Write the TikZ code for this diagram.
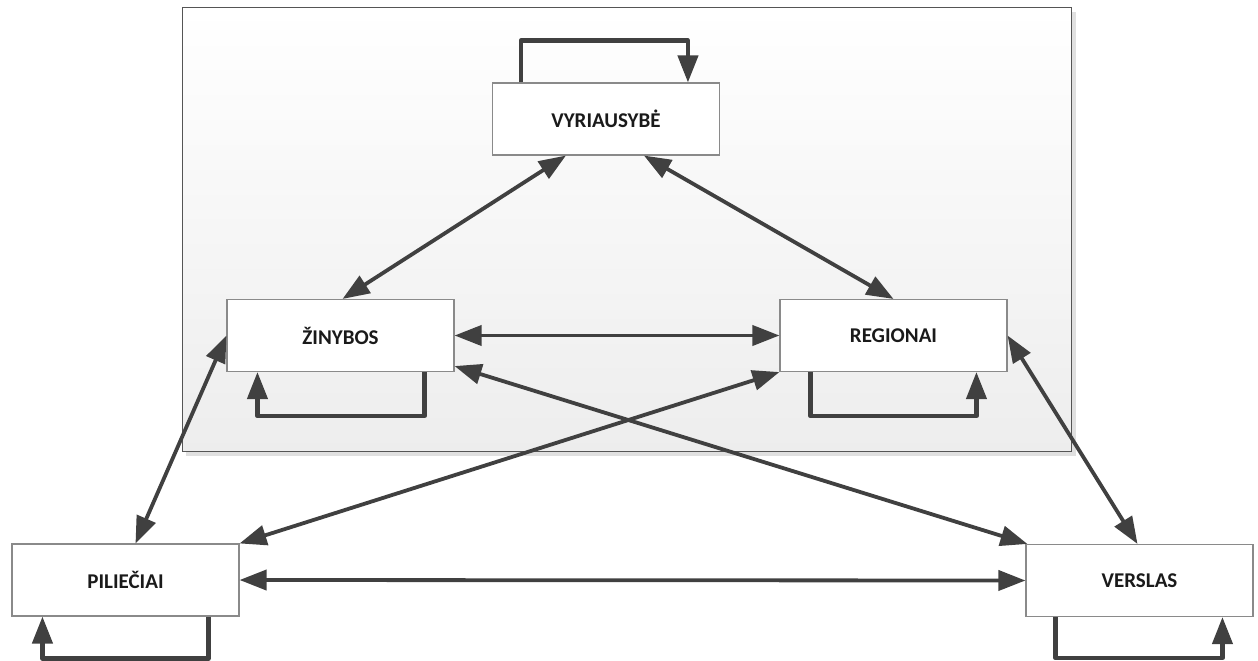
\documentclass[tikz,border=0pt]{standalone}
\usepackage{fontspec}
\setmainfont{Carlito}
\usetikzlibrary{arrows.meta,calc}
\definecolor{linec}{HTML}{404040}
\definecolor{boxline}{HTML}{8A8A8A}
\definecolor{framec}{HTML}{555555}
\definecolor{textc}{HTML}{1A1A1A}
\tikzset{
  unitbox/.style={draw=boxline, line width=1.1pt, fill=white,
    minimum width=227pt, minimum height=72pt, inner sep=0pt,
    text=textc, font=\fontsize{21}{24}\selectfont\bfseries},
  link/.style={draw=linec, line width=3.8pt,
    {Triangle[length=27pt,width=20pt]}-{Triangle[length=27pt,width=20pt]}},
  selfloop/.style={draw=linec, line width=4.2pt, line join=round,
    -{Triangle[length=27pt,width=20pt]}},
}
\begin{document}
\begin{tikzpicture}[x=1pt,y=-1pt]
  \useasboundingbox (0,0) rectangle (1258,661);
  % shaded government area with its drop shadow
  \fill[black!12] (186,12) rectangle (1076,456);
  \shade[top color=white, bottom color=black!7, draw=framec, line width=1pt]
    (182,8) rectangle (1071,451);

  % units
  \node[unitbox] (v)  at (606,119)    {VYRIAUSYBĖ};
  \node[unitbox] (z)  at (340.5,335.5) {ŽINYBOS};
  \node[unitbox] (r)  at (893.5,335.5) {REGIONAI};
  \node[unitbox] (p)  at (125.5,580)   {PILIEČIAI};
  \node[unitbox] (vs) at (1139.5,580.5) {VERSLAS};

  % two-way links
  \draw[link] ($(v.south west)+(74,0)$) -- ($(z.north)+(2,0)$);
  \draw[link] ($(v.south west)+(152,0)$) -- ($(r.north)+(0,0)$);
  \draw[link] (z.east) -- (r.west);
  \draw[link] (z.west) -- ($(p.north)+(10,0)$);
  \draw[link] (r.east) -- ($(vs.north)+(-2,0)$);
  \draw[link] ($(z.south east)+(0,-6)$) -- ($(vs.north west)+(2,0)$);
  \draw[link] (r.south west) -- (p.north east);
  \draw[link] (p.east) -- (vs.west);

  % self loops
  \draw[selfloop] ($(v.north west)+(29,0)$) -- ++(0,-42) -| ($(v.north west)+(196,0)$);
  \draw[selfloop] ($(z.south west)+(198,0)$) -- ++(0,44) -| ($(z.south west)+(31,0)$);
  \draw[selfloop] ($(r.south west)+(31,0)$) -- ++(0,44) -| ($(r.south west)+(197,0)$);
  \draw[selfloop] ($(p.south west)+(197,0)$) -- ++(0,42) -| ($(p.south west)+(31,0)$);
  \draw[selfloop] ($(vs.south west)+(30,0)$) -- ++(0,41) -| ($(vs.south west)+(197,0)$);
\end{tikzpicture}
\end{document}
